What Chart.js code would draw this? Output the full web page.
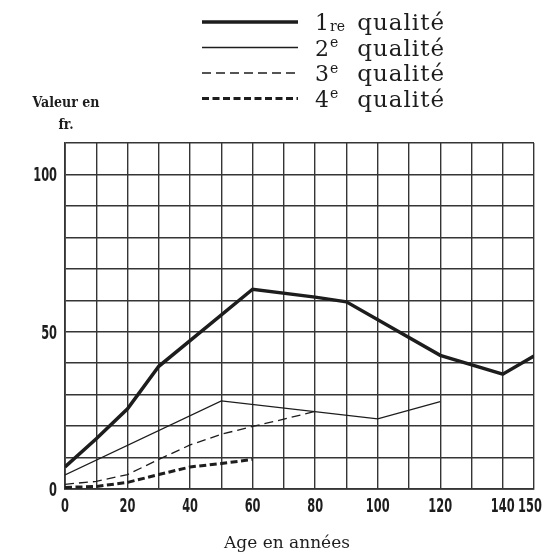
<!DOCTYPE html>
<html>
<head>
<meta charset="utf-8">
<script src="https://cdn.jsdelivr.net/npm/chart.js@4.4.0/dist/chart.umd.min.js"></script>
<style>
body { margin: 0; background: #fff; }
#wrap { width: 548px; height: 559px; }
</style>
</head>
<body>
<div id="wrap"><canvas id="valeurChart" width="548" height="559"></canvas></div>
<script>
var ages1 = [0, 10, 20, 30, 60, 80, 90, 120, 140, 150];
var qual1 = [7, 16, 25.5, 39, 63.5, 61, 59.5, 42.5, 36.5, 42.3];
var ages2 = [0, 50, 100, 120];
var qual2 = [4.5, 28, 22.3, 27.8];
var ages3 = [0, 10, 20, 30, 40, 50, 60, 70, 80];
var qual3 = [1.5, 2.4, 4.6, 9.4, 14, 17.4, 19.9, 22.2, 24.7];
var ages4 = [0, 10, 20, 30, 40, 50, 60];
var qual4 = [0.5, 0.8, 2.1, 4.6, 7, 8.1, 9.4];

var xLabels = [0, 20, 40, 60, 80, 100, 120, 140, 150];
var yLabels = [0, 50, 100];
var qualNum = ['1', '2', '3', '4'];
var qualSuffix = ['re', 'e', 'e', 'e'];

var ink = '#1d1d1d';
var gridInk = '#353535';

function points(ages, vals) {
    return ages.map(function (a, i) { return { x: a, y: vals[i] }; });
}

// chiffres étroits des axes (police condensée)
function narrowText(ctx, txt, x, y, align) {
    ctx.save();
    ctx.translate(x, y);
    ctx.scale(0.6, 1);
    ctx.textAlign = align;
    ctx.fillText(txt, 0, 0);
    ctx.restore();
}

// ============ légende, titres, graduations ============
var paperText = {
    id: 'paperText',
    afterDraw: function (chart) {
        var ctx = chart.ctx;
        var xs = chart.scales.x;
        var ys = chart.scales.y;
        ctx.save();
        ctx.fillStyle = ink;
        ctx.textBaseline = 'alphabetic';

        // graduations
        ctx.font = 'bold 19px "DejaVu Sans", sans-serif';
        xLabels.forEach(function (v) {
            var px = xs.getPixelForValue(v);
            if (v === 150) px -= 4;
            narrowText(ctx, String(v), px, 512, 'center');
        });
        yLabels.forEach(function (v) {
            narrowText(ctx, String(v), 57, ys.getPixelForValue(v) + 7, 'right');
        });

        // légende
        chart.data.datasets.forEach(function (ds, i) {
            var y = 22 + i * 25.5;
            ctx.beginPath();
            ctx.lineWidth = ds.borderWidth;
            ctx.setLineDash(ds.borderDash || []);
            ctx.strokeStyle = ds.borderColor;
            ctx.moveTo(202, y);
            ctx.lineTo(298, y);
            ctx.stroke();
            ctx.setLineDash([]);

            ctx.textAlign = 'left';
            ctx.font = '22px "DejaVu Serif", serif';
            ctx.fillText(qualNum[i], 315, y + 8);
            var w = ctx.measureText(qualNum[i]).width;
            ctx.font = '14px "DejaVu Serif", serif';
            // "re" est imprimé plus bas que les "e"
            ctx.fillText(qualSuffix[i], 316 + w, i === 0 ? y + 9 : y - 0.5);
            ctx.font = '23px "DejaVu Serif", serif';
            ctx.letterSpacing = '1px';
            var qw = ctx.measureText('qualité').width;
            ctx.fillText('qualité', 445 - qw, y + 8);
            ctx.letterSpacing = '0px';
        });

        ctx.textAlign = 'center';
        ctx.font = 'bold 14px "DejaVu Serif Condensed", "DejaVu Serif", serif';
        ctx.fillText('Valeur en', 66, 107);
        ctx.fillText('fr.', 66, 129);

        ctx.font = '17px "DejaVu Serif", serif';
        ctx.fillText('Age en années', 287, 548);
        ctx.restore();
    }
};

var ctx = document.getElementById('valeurChart').getContext('2d');
var valeurChart = new Chart(ctx, {
    type: 'line',
    data: {
        datasets: [{
            label: '1re qualité',
            data: points(ages1, qual1),
            borderColor: ink,
            borderWidth: 3.5
        }, {
            label: '2e qualité',
            data: points(ages2, qual2),
            borderColor: ink,
            borderWidth: 1.3
        }, {
            label: '3e qualité',
            data: points(ages3, qual3),
            borderColor: ink,
            borderWidth: 1.3,
            borderDash: [9, 5]
        }, {
            label: '4e qualité',
            data: points(ages4, qual4),
            borderColor: ink,
            borderWidth: 3,
            borderDash: [7, 3.5]
        }]
    },
    options: {
        responsive: false,
        animation: false,
        layout: { padding: { top: 143, right: 14, left: 0, bottom: 0 } },
        elements: { point: { radius: 0 }, line: { tension: 0, fill: false } },
        plugins: { legend: { display: false }, tooltip: { enabled: false } },
        scales: {
            x: {
                type: 'linear',
                min: 0,
                max: 150,
                afterFit: function (s) { s.height = 70; s.paddingLeft = 0; s.paddingRight = 0; },
                ticks: { stepSize: 10, autoSkip: false, display: false },
                grid: { color: gridInk, lineWidth: 1.4, drawTicks: false },
                border: { color: gridInk, width: 1.8 }
            },
            y: {
                min: 0,
                max: 110,
                afterFit: function (s) { s.width = 65; },
                ticks: { stepSize: 10, autoSkip: false, display: false },
                grid: { color: gridInk, lineWidth: 1.4, drawTicks: false },
                border: { color: gridInk, width: 1.8 }
            }
        }
    },
    plugins: [paperText]
});
</script>
</body>
</html>
